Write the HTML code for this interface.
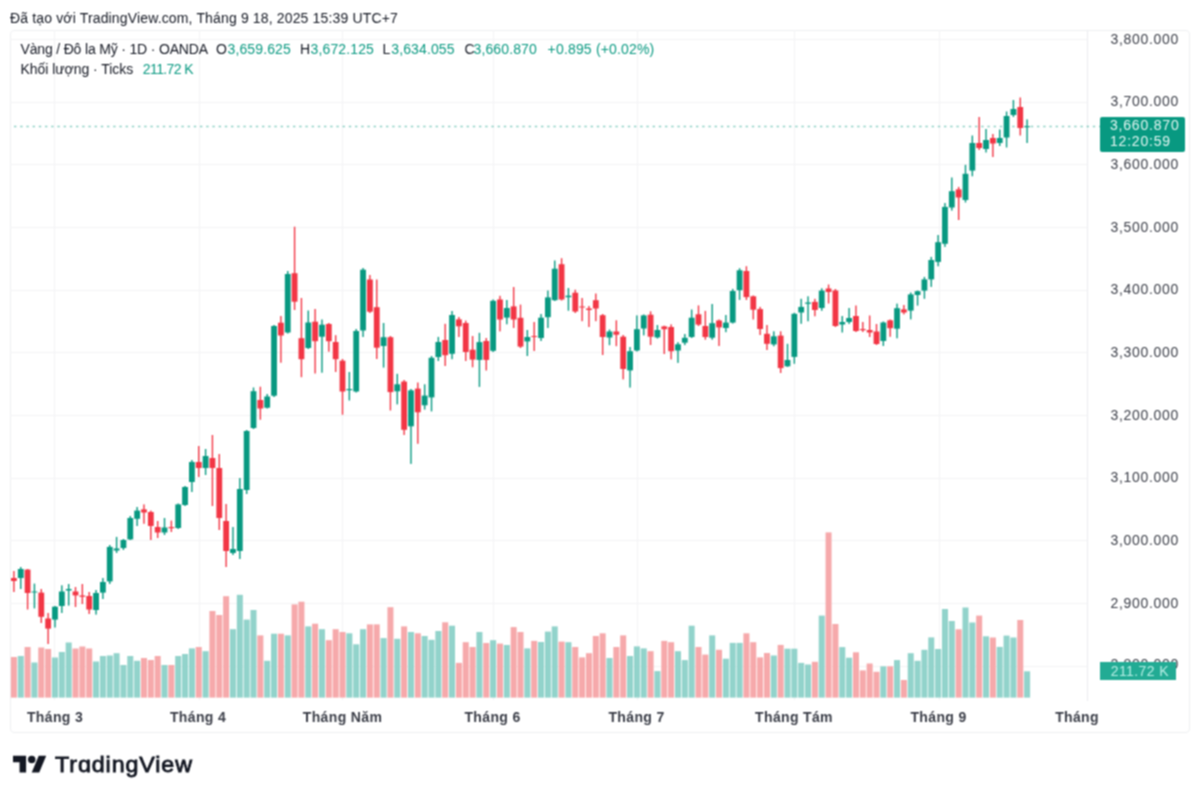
<!DOCTYPE html>
<html><head><meta charset="utf-8">
<style>
html,body{margin:0;padding:0;background:#fff;}
body{width:1200px;height:800px;position:relative;overflow:hidden;font-family:"Liberation Sans",sans-serif;color:#131722;}
.hdr{position:absolute;left:10px;top:10.25px;font-size:14px;line-height:17px;color:#131722;white-space:nowrap;letter-spacing:0.15px;}
.frame{position:absolute;left:10px;top:30px;width:1180px;height:702.5px;border:1px solid #eeeff1;border-radius:4px;box-sizing:border-box;}
.sep{position:absolute;left:1087px;top:30px;width:1px;height:671px;background:#ebecef;}
svg.ch{position:absolute;left:0;top:0;}
.t{position:absolute;white-space:nowrap;}
.lg{position:absolute;left:20px;font-size:14px;line-height:17px;white-space:nowrap;color:#131722;}
.lg span{position:absolute;top:0;white-space:nowrap;}
.lg .v{color:#089981;}
.pl{position:absolute;left:1090px;width:89px;text-align:right;font-size:14px;color:#3a3d47;line-height:17px;letter-spacing:0.7px;}
.ml{position:absolute;top:708.8px;width:120px;text-align:center;font-size:14px;font-weight:bold;color:#3a3d47;line-height:17px;letter-spacing:0.35px;}
.pbox{position:absolute;left:1100.4px;top:116.7px;width:85px;height:35.3px;background:#089981;border-radius:2px;color:#e6f7f3;font-size:14px;line-height:17px;letter-spacing:0.8px;}
.vbox{position:absolute;left:1100.4px;top:662px;width:75.4px;height:18px;background:#22ab94;color:#b8efe6;font-size:14px;line-height:18px;letter-spacing:0.4px;}
.logo{position:absolute;left:12.5px;top:752.1px;}
.logot{position:absolute;left:55px;top:752.5px;font-size:21.5px;line-height:24px;font-weight:normal;-webkit-text-stroke:0.8px #131722;color:#131722;letter-spacing:0.85px;transform:scaleX(1.08);transform-origin:0 0;}
#wrap{position:absolute;left:0;top:0;width:1200px;height:800px;filter:url(#bl);}
</style></head><body><svg width="0" height="0" style="position:absolute"><filter id="bl" x="0" y="0" width="100%" height="100%" color-interpolation-filters="sRGB"><feConvolveMatrix order="3" kernelMatrix="1 2 1 2 4 2 1 2 1" edgeMode="duplicate"/></filter></svg><div id="wrap">
<div class="hdr">Đã tạo với TradingView.com, Tháng 9 18, 2025 15:39 UTC+7</div>
<div class="frame"></div>
<div class="sep"></div>
<svg class="ch" width="1200" height="800" viewBox="0 0 1200 800">
<line x1="10" y1="666.5" x2="1087" y2="666.5" stroke="#f3f3f5" stroke-width="1"/>
<line x1="10" y1="603.5" x2="1087" y2="603.5" stroke="#f3f3f5" stroke-width="1"/>
<line x1="10" y1="540.5" x2="1087" y2="540.5" stroke="#f3f3f5" stroke-width="1"/>
<line x1="10" y1="478.5" x2="1087" y2="478.5" stroke="#f3f3f5" stroke-width="1"/>
<line x1="10" y1="415.5" x2="1087" y2="415.5" stroke="#f3f3f5" stroke-width="1"/>
<line x1="10" y1="352.5" x2="1087" y2="352.5" stroke="#f3f3f5" stroke-width="1"/>
<line x1="10" y1="290.5" x2="1087" y2="290.5" stroke="#f3f3f5" stroke-width="1"/>
<line x1="10" y1="227.5" x2="1087" y2="227.5" stroke="#f3f3f5" stroke-width="1"/>
<line x1="10" y1="164.5" x2="1087" y2="164.5" stroke="#f3f3f5" stroke-width="1"/>
<line x1="10" y1="102.5" x2="1087" y2="102.5" stroke="#f3f3f5" stroke-width="1"/>
<line x1="10" y1="39.5" x2="1087" y2="39.5" stroke="#f3f3f5" stroke-width="1"/>
<line x1="54.5" y1="30" x2="54.5" y2="700" stroke="#f3f3f5" stroke-width="1"/>
<line x1="199.5" y1="30" x2="199.5" y2="700" stroke="#f3f3f5" stroke-width="1"/>
<line x1="342.5" y1="30" x2="342.5" y2="700" stroke="#f3f3f5" stroke-width="1"/>
<line x1="493.5" y1="30" x2="493.5" y2="700" stroke="#f3f3f5" stroke-width="1"/>
<line x1="637.5" y1="30" x2="637.5" y2="700" stroke="#f3f3f5" stroke-width="1"/>
<line x1="794.5" y1="30" x2="794.5" y2="700" stroke="#f3f3f5" stroke-width="1"/>
<line x1="939.5" y1="30" x2="939.5" y2="700" stroke="#f3f3f5" stroke-width="1"/>
<rect x="10.90" y="657.0" width="6.0" height="40.6" fill="#f6a9ab"/>
<rect x="17.75" y="656.0" width="6.0" height="41.6" fill="#92d3cb"/>
<rect x="24.59" y="647.0" width="6.0" height="50.6" fill="#f6a9ab"/>
<rect x="31.44" y="662.5" width="6.0" height="35.1" fill="#92d3cb"/>
<rect x="38.28" y="647.5" width="6.0" height="50.1" fill="#f6a9ab"/>
<rect x="45.13" y="649.0" width="6.0" height="48.6" fill="#f6a9ab"/>
<rect x="51.98" y="657.5" width="6.0" height="40.1" fill="#92d3cb"/>
<rect x="58.82" y="652.0" width="6.0" height="45.6" fill="#92d3cb"/>
<rect x="65.67" y="642.5" width="6.0" height="55.1" fill="#92d3cb"/>
<rect x="72.51" y="648.5" width="6.0" height="49.1" fill="#f6a9ab"/>
<rect x="79.36" y="646.5" width="6.0" height="51.1" fill="#f6a9ab"/>
<rect x="86.21" y="648.5" width="6.0" height="49.1" fill="#f6a9ab"/>
<rect x="93.05" y="661.5" width="6.0" height="36.1" fill="#92d3cb"/>
<rect x="99.90" y="656.0" width="6.0" height="41.6" fill="#92d3cb"/>
<rect x="106.74" y="655.5" width="6.0" height="42.1" fill="#92d3cb"/>
<rect x="113.59" y="653.2" width="6.0" height="44.4" fill="#92d3cb"/>
<rect x="120.44" y="665.0" width="6.0" height="32.6" fill="#92d3cb"/>
<rect x="127.28" y="656.0" width="6.0" height="41.6" fill="#92d3cb"/>
<rect x="134.13" y="660.8" width="6.0" height="36.8" fill="#92d3cb"/>
<rect x="140.97" y="658.0" width="6.0" height="39.6" fill="#f6a9ab"/>
<rect x="147.82" y="660.0" width="6.0" height="37.6" fill="#f6a9ab"/>
<rect x="154.67" y="656.0" width="6.0" height="41.6" fill="#f6a9ab"/>
<rect x="161.51" y="665.0" width="6.0" height="32.6" fill="#92d3cb"/>
<rect x="168.36" y="665.0" width="6.0" height="32.6" fill="#f6a9ab"/>
<rect x="175.20" y="656.0" width="6.0" height="41.6" fill="#92d3cb"/>
<rect x="182.05" y="654.0" width="6.0" height="43.6" fill="#92d3cb"/>
<rect x="188.90" y="648.4" width="6.0" height="49.2" fill="#92d3cb"/>
<rect x="195.74" y="647.0" width="6.0" height="50.6" fill="#f6a9ab"/>
<rect x="202.59" y="651.2" width="6.0" height="46.4" fill="#92d3cb"/>
<rect x="209.43" y="611.0" width="6.0" height="86.6" fill="#f6a9ab"/>
<rect x="216.28" y="615.0" width="6.0" height="82.6" fill="#f6a9ab"/>
<rect x="223.13" y="596.2" width="6.0" height="101.4" fill="#f6a9ab"/>
<rect x="229.97" y="629.2" width="6.0" height="68.4" fill="#92d3cb"/>
<rect x="236.82" y="594.8" width="6.0" height="102.8" fill="#92d3cb"/>
<rect x="243.66" y="619.6" width="6.0" height="78.0" fill="#92d3cb"/>
<rect x="250.51" y="610.0" width="6.0" height="87.6" fill="#92d3cb"/>
<rect x="257.36" y="635.4" width="6.0" height="62.2" fill="#f6a9ab"/>
<rect x="264.20" y="660.8" width="6.0" height="36.8" fill="#92d3cb"/>
<rect x="271.05" y="633.7" width="6.0" height="63.9" fill="#92d3cb"/>
<rect x="277.89" y="633.7" width="6.0" height="63.9" fill="#f6a9ab"/>
<rect x="284.74" y="635.4" width="6.0" height="62.2" fill="#92d3cb"/>
<rect x="291.59" y="604.4" width="6.0" height="93.2" fill="#f6a9ab"/>
<rect x="298.43" y="601.7" width="6.0" height="95.9" fill="#f6a9ab"/>
<rect x="305.28" y="626.4" width="6.0" height="71.2" fill="#92d3cb"/>
<rect x="312.12" y="623.7" width="6.0" height="73.9" fill="#f6a9ab"/>
<rect x="318.97" y="629.2" width="6.0" height="68.4" fill="#92d3cb"/>
<rect x="325.82" y="640.2" width="6.0" height="57.4" fill="#f6a9ab"/>
<rect x="332.66" y="629.2" width="6.0" height="68.4" fill="#f6a9ab"/>
<rect x="339.51" y="632.0" width="6.0" height="65.6" fill="#f6a9ab"/>
<rect x="346.35" y="633.3" width="6.0" height="64.3" fill="#92d3cb"/>
<rect x="353.20" y="644.3" width="6.0" height="53.3" fill="#92d3cb"/>
<rect x="360.05" y="629.2" width="6.0" height="68.4" fill="#92d3cb"/>
<rect x="366.89" y="624.4" width="6.0" height="73.2" fill="#f6a9ab"/>
<rect x="373.74" y="624.4" width="6.0" height="73.2" fill="#f6a9ab"/>
<rect x="380.58" y="638.1" width="6.0" height="59.5" fill="#92d3cb"/>
<rect x="387.43" y="607.2" width="6.0" height="90.4" fill="#f6a9ab"/>
<rect x="394.28" y="638.8" width="6.0" height="58.8" fill="#92d3cb"/>
<rect x="401.12" y="626.4" width="6.0" height="71.2" fill="#f6a9ab"/>
<rect x="407.97" y="632.0" width="6.0" height="65.6" fill="#92d3cb"/>
<rect x="414.81" y="633.3" width="6.0" height="64.3" fill="#f6a9ab"/>
<rect x="421.66" y="636.0" width="6.0" height="61.6" fill="#92d3cb"/>
<rect x="428.51" y="639.8" width="6.0" height="57.8" fill="#92d3cb"/>
<rect x="435.35" y="631.0" width="6.0" height="66.6" fill="#92d3cb"/>
<rect x="442.20" y="622.3" width="6.0" height="75.3" fill="#f6a9ab"/>
<rect x="449.04" y="625.7" width="6.0" height="71.9" fill="#92d3cb"/>
<rect x="455.89" y="662.9" width="6.0" height="34.7" fill="#f6a9ab"/>
<rect x="462.74" y="642.2" width="6.0" height="55.4" fill="#f6a9ab"/>
<rect x="469.58" y="647.0" width="6.0" height="50.6" fill="#f6a9ab"/>
<rect x="476.43" y="632.0" width="6.0" height="65.6" fill="#92d3cb"/>
<rect x="483.27" y="643.0" width="6.0" height="54.6" fill="#f6a9ab"/>
<rect x="490.12" y="640.2" width="6.0" height="57.4" fill="#92d3cb"/>
<rect x="496.97" y="643.6" width="6.0" height="54.0" fill="#f6a9ab"/>
<rect x="503.81" y="645.0" width="6.0" height="52.6" fill="#92d3cb"/>
<rect x="510.66" y="627.1" width="6.0" height="70.5" fill="#f6a9ab"/>
<rect x="517.50" y="632.0" width="6.0" height="65.6" fill="#f6a9ab"/>
<rect x="524.35" y="648.4" width="6.0" height="49.2" fill="#92d3cb"/>
<rect x="531.20" y="640.9" width="6.0" height="56.7" fill="#f6a9ab"/>
<rect x="538.04" y="642.0" width="6.0" height="55.6" fill="#92d3cb"/>
<rect x="544.89" y="631.6" width="6.0" height="66.0" fill="#92d3cb"/>
<rect x="551.73" y="626.4" width="6.0" height="71.2" fill="#92d3cb"/>
<rect x="558.58" y="641.6" width="6.0" height="56.0" fill="#f6a9ab"/>
<rect x="565.43" y="642.2" width="6.0" height="55.4" fill="#92d3cb"/>
<rect x="572.27" y="647.0" width="6.0" height="50.6" fill="#f6a9ab"/>
<rect x="579.12" y="657.4" width="6.0" height="40.2" fill="#f6a9ab"/>
<rect x="585.96" y="653.2" width="6.0" height="44.4" fill="#f6a9ab"/>
<rect x="592.81" y="636.0" width="6.0" height="61.6" fill="#f6a9ab"/>
<rect x="599.66" y="633.3" width="6.0" height="64.3" fill="#f6a9ab"/>
<rect x="606.50" y="658.0" width="6.0" height="39.6" fill="#92d3cb"/>
<rect x="613.35" y="647.0" width="6.0" height="50.6" fill="#f6a9ab"/>
<rect x="620.19" y="635.4" width="6.0" height="62.2" fill="#f6a9ab"/>
<rect x="627.04" y="656.0" width="6.0" height="41.6" fill="#92d3cb"/>
<rect x="633.89" y="646.4" width="6.0" height="51.2" fill="#92d3cb"/>
<rect x="640.73" y="648.4" width="6.0" height="49.2" fill="#92d3cb"/>
<rect x="647.58" y="651.2" width="6.0" height="46.4" fill="#f6a9ab"/>
<rect x="654.42" y="671.1" width="6.0" height="26.5" fill="#92d3cb"/>
<rect x="661.27" y="640.9" width="6.0" height="56.7" fill="#f6a9ab"/>
<rect x="668.12" y="642.2" width="6.0" height="55.4" fill="#f6a9ab"/>
<rect x="674.96" y="651.2" width="6.0" height="46.4" fill="#92d3cb"/>
<rect x="681.81" y="660.1" width="6.0" height="37.5" fill="#92d3cb"/>
<rect x="688.65" y="625.7" width="6.0" height="71.9" fill="#92d3cb"/>
<rect x="695.50" y="647.0" width="6.0" height="50.6" fill="#f6a9ab"/>
<rect x="702.35" y="654.6" width="6.0" height="43.0" fill="#f6a9ab"/>
<rect x="709.19" y="635.4" width="6.0" height="62.2" fill="#92d3cb"/>
<rect x="716.04" y="649.8" width="6.0" height="47.8" fill="#f6a9ab"/>
<rect x="722.88" y="658.7" width="6.0" height="38.9" fill="#92d3cb"/>
<rect x="729.73" y="642.9" width="6.0" height="54.7" fill="#92d3cb"/>
<rect x="736.58" y="642.9" width="6.0" height="54.7" fill="#92d3cb"/>
<rect x="743.42" y="633.3" width="6.0" height="64.3" fill="#f6a9ab"/>
<rect x="750.27" y="642.2" width="6.0" height="55.4" fill="#f6a9ab"/>
<rect x="757.11" y="657.4" width="6.0" height="40.2" fill="#f6a9ab"/>
<rect x="763.96" y="653.0" width="6.0" height="44.6" fill="#f6a9ab"/>
<rect x="770.81" y="655.5" width="6.0" height="42.1" fill="#92d3cb"/>
<rect x="777.65" y="644.9" width="6.0" height="52.7" fill="#f6a9ab"/>
<rect x="784.50" y="648.7" width="6.0" height="48.9" fill="#92d3cb"/>
<rect x="791.34" y="648.7" width="6.0" height="48.9" fill="#92d3cb"/>
<rect x="798.19" y="662.9" width="6.0" height="34.7" fill="#92d3cb"/>
<rect x="805.04" y="664.5" width="6.0" height="33.1" fill="#92d3cb"/>
<rect x="811.88" y="661.8" width="6.0" height="35.8" fill="#f6a9ab"/>
<rect x="818.73" y="615.6" width="6.0" height="82.0" fill="#92d3cb"/>
<rect x="825.57" y="532.4" width="6.0" height="165.2" fill="#f6a9ab"/>
<rect x="832.42" y="624.0" width="6.0" height="73.6" fill="#f6a9ab"/>
<rect x="839.27" y="647.1" width="6.0" height="50.5" fill="#92d3cb"/>
<rect x="846.11" y="657.7" width="6.0" height="39.9" fill="#92d3cb"/>
<rect x="852.96" y="652.3" width="6.0" height="45.3" fill="#f6a9ab"/>
<rect x="859.80" y="670.4" width="6.0" height="27.2" fill="#f6a9ab"/>
<rect x="866.65" y="663.5" width="6.0" height="34.1" fill="#f6a9ab"/>
<rect x="873.50" y="671.8" width="6.0" height="25.8" fill="#f6a9ab"/>
<rect x="880.34" y="666.3" width="6.0" height="31.3" fill="#92d3cb"/>
<rect x="887.19" y="666.3" width="6.0" height="31.3" fill="#f6a9ab"/>
<rect x="894.03" y="660.1" width="6.0" height="37.5" fill="#92d3cb"/>
<rect x="900.88" y="680.0" width="6.0" height="17.6" fill="#f6a9ab"/>
<rect x="907.73" y="653.2" width="6.0" height="44.4" fill="#92d3cb"/>
<rect x="914.57" y="660.8" width="6.0" height="36.8" fill="#92d3cb"/>
<rect x="921.42" y="649.8" width="6.0" height="47.8" fill="#92d3cb"/>
<rect x="928.26" y="637.4" width="6.0" height="60.2" fill="#92d3cb"/>
<rect x="935.11" y="649.0" width="6.0" height="48.6" fill="#92d3cb"/>
<rect x="941.96" y="609.0" width="6.0" height="88.6" fill="#92d3cb"/>
<rect x="948.80" y="621.0" width="6.0" height="76.6" fill="#92d3cb"/>
<rect x="955.65" y="629.3" width="6.0" height="68.3" fill="#f6a9ab"/>
<rect x="962.49" y="607.5" width="6.0" height="90.1" fill="#92d3cb"/>
<rect x="969.34" y="622.5" width="6.0" height="75.1" fill="#92d3cb"/>
<rect x="976.19" y="615.6" width="6.0" height="82.0" fill="#f6a9ab"/>
<rect x="983.03" y="636.3" width="6.0" height="61.3" fill="#92d3cb"/>
<rect x="989.88" y="637.5" width="6.0" height="60.1" fill="#f6a9ab"/>
<rect x="996.72" y="646.9" width="6.0" height="50.7" fill="#92d3cb"/>
<rect x="1003.57" y="635.6" width="6.0" height="62.0" fill="#92d3cb"/>
<rect x="1010.42" y="637.5" width="6.0" height="60.1" fill="#92d3cb"/>
<rect x="1017.26" y="620.0" width="6.0" height="77.6" fill="#f6a9ab"/>
<rect x="1024.11" y="671.3" width="6.0" height="26.3" fill="#92d3cb"/>
<line x1="14" y1="126.5" x2="1100" y2="126.5" stroke="#089981" stroke-width="1.4" stroke-dasharray="2.4 3.8" opacity="0.45"/>
<rect x="13.20" y="571.0" width="1.4" height="21.0" fill="#f23645"/>
<rect x="11.00" y="578.0" width="5.8" height="3.0" fill="#f23645"/>
<rect x="20.05" y="567.0" width="1.4" height="22.0" fill="#089981"/>
<rect x="17.85" y="569.0" width="5.8" height="9.0" fill="#089981"/>
<rect x="26.89" y="569.0" width="1.4" height="40.5" fill="#f23645"/>
<rect x="24.69" y="569.6" width="5.8" height="23.4" fill="#f23645"/>
<rect x="33.74" y="583.6" width="1.4" height="24.8" fill="#089981"/>
<rect x="31.54" y="591.5" width="5.8" height="1.0" fill="#089981"/>
<rect x="40.58" y="589.0" width="1.4" height="34.0" fill="#f23645"/>
<rect x="38.38" y="592.6" width="5.8" height="24.2" fill="#f23645"/>
<rect x="47.43" y="613.0" width="1.4" height="31.0" fill="#f23645"/>
<rect x="45.23" y="618.5" width="5.8" height="10.1" fill="#f23645"/>
<rect x="54.28" y="606.0" width="1.4" height="21.5" fill="#089981"/>
<rect x="52.08" y="606.7" width="5.8" height="12.9" fill="#089981"/>
<rect x="61.12" y="585.3" width="1.4" height="27.7" fill="#089981"/>
<rect x="58.92" y="591.5" width="5.8" height="14.5" fill="#089981"/>
<rect x="67.97" y="584.0" width="1.4" height="21.6" fill="#089981"/>
<rect x="65.77" y="589.0" width="5.8" height="1.5" fill="#089981"/>
<rect x="74.81" y="587.0" width="1.4" height="20.0" fill="#f23645"/>
<rect x="72.61" y="591.5" width="5.8" height="3.9" fill="#f23645"/>
<rect x="81.66" y="584.0" width="1.4" height="20.0" fill="#f23645"/>
<rect x="79.46" y="595.5" width="5.8" height="1.3" fill="#f23645"/>
<rect x="88.51" y="592.0" width="1.4" height="22.0" fill="#f23645"/>
<rect x="86.31" y="596.0" width="5.8" height="13.5" fill="#f23645"/>
<rect x="95.35" y="590.0" width="1.4" height="24.6" fill="#089981"/>
<rect x="93.15" y="593.0" width="5.8" height="17.0" fill="#089981"/>
<rect x="102.20" y="578.0" width="1.4" height="21.0" fill="#089981"/>
<rect x="100.00" y="582.0" width="5.8" height="10.6" fill="#089981"/>
<rect x="109.04" y="545.0" width="1.4" height="39.0" fill="#089981"/>
<rect x="106.84" y="546.9" width="5.8" height="34.5" fill="#089981"/>
<rect x="115.89" y="536.9" width="1.4" height="16.1" fill="#089981"/>
<rect x="113.69" y="548.5" width="5.8" height="2.0" fill="#089981"/>
<rect x="122.74" y="539.0" width="1.4" height="11.0" fill="#089981"/>
<rect x="120.54" y="540.0" width="5.8" height="8.0" fill="#089981"/>
<rect x="129.58" y="516.0" width="1.4" height="24.0" fill="#089981"/>
<rect x="127.38" y="518.0" width="5.8" height="21.4" fill="#089981"/>
<rect x="136.43" y="507.0" width="1.4" height="19.0" fill="#089981"/>
<rect x="134.23" y="510.6" width="5.8" height="8.2" fill="#089981"/>
<rect x="143.27" y="504.4" width="1.4" height="19.4" fill="#f23645"/>
<rect x="141.07" y="509.4" width="5.8" height="3.1" fill="#f23645"/>
<rect x="150.12" y="510.6" width="1.4" height="29.4" fill="#f23645"/>
<rect x="147.92" y="512.0" width="5.8" height="14.0" fill="#f23645"/>
<rect x="156.97" y="521.0" width="1.4" height="17.0" fill="#f23645"/>
<rect x="154.77" y="527.0" width="5.8" height="5.5" fill="#f23645"/>
<rect x="163.81" y="518.0" width="1.4" height="17.0" fill="#089981"/>
<rect x="161.61" y="527.5" width="5.8" height="5.0" fill="#089981"/>
<rect x="170.66" y="520.6" width="1.4" height="11.4" fill="#f23645"/>
<rect x="168.46" y="527.0" width="5.8" height="1.2" fill="#f23645"/>
<rect x="177.50" y="503.5" width="1.4" height="25.5" fill="#089981"/>
<rect x="175.30" y="504.4" width="5.8" height="23.6" fill="#089981"/>
<rect x="184.35" y="486.0" width="1.4" height="20.0" fill="#089981"/>
<rect x="182.15" y="487.0" width="5.8" height="18.0" fill="#089981"/>
<rect x="191.20" y="460.0" width="1.4" height="32.0" fill="#089981"/>
<rect x="189.00" y="462.0" width="5.8" height="20.0" fill="#089981"/>
<rect x="198.04" y="446.0" width="1.4" height="31.0" fill="#f23645"/>
<rect x="195.84" y="462.0" width="5.8" height="6.0" fill="#f23645"/>
<rect x="204.89" y="449.0" width="1.4" height="26.0" fill="#089981"/>
<rect x="202.69" y="456.0" width="5.8" height="12.0" fill="#089981"/>
<rect x="211.73" y="435.0" width="1.4" height="71.0" fill="#f23645"/>
<rect x="209.53" y="458.0" width="5.8" height="10.0" fill="#f23645"/>
<rect x="218.58" y="454.0" width="1.4" height="76.0" fill="#f23645"/>
<rect x="216.38" y="468.0" width="5.8" height="50.0" fill="#f23645"/>
<rect x="225.43" y="504.0" width="1.4" height="63.0" fill="#f23645"/>
<rect x="223.23" y="521.0" width="5.8" height="30.0" fill="#f23645"/>
<rect x="232.27" y="527.0" width="1.4" height="28.0" fill="#089981"/>
<rect x="230.07" y="549.0" width="5.8" height="4.0" fill="#089981"/>
<rect x="239.12" y="478.0" width="1.4" height="81.0" fill="#089981"/>
<rect x="236.92" y="489.0" width="5.8" height="62.0" fill="#089981"/>
<rect x="245.96" y="430.0" width="1.4" height="64.0" fill="#089981"/>
<rect x="243.76" y="431.0" width="5.8" height="59.0" fill="#089981"/>
<rect x="252.81" y="387.5" width="1.4" height="41.5" fill="#089981"/>
<rect x="250.61" y="391.2" width="5.8" height="36.8" fill="#089981"/>
<rect x="259.66" y="386.7" width="1.4" height="33.0" fill="#f23645"/>
<rect x="257.46" y="400.0" width="5.8" height="8.5" fill="#f23645"/>
<rect x="266.50" y="394.0" width="1.4" height="14.5" fill="#089981"/>
<rect x="264.30" y="396.5" width="5.8" height="11.2" fill="#089981"/>
<rect x="273.35" y="325.0" width="1.4" height="72.0" fill="#089981"/>
<rect x="271.15" y="326.0" width="5.8" height="69.7" fill="#089981"/>
<rect x="280.19" y="316.0" width="1.4" height="46.7" fill="#f23645"/>
<rect x="277.99" y="322.7" width="5.8" height="12.8" fill="#f23645"/>
<rect x="287.04" y="271.0" width="1.4" height="62.5" fill="#089981"/>
<rect x="284.84" y="274.0" width="5.8" height="58.5" fill="#089981"/>
<rect x="293.89" y="226.7" width="1.4" height="83.3" fill="#f23645"/>
<rect x="291.69" y="273.2" width="5.8" height="28.5" fill="#f23645"/>
<rect x="300.73" y="298.0" width="1.4" height="79.2" fill="#f23645"/>
<rect x="298.53" y="338.2" width="5.8" height="21.0" fill="#f23645"/>
<rect x="307.58" y="310.5" width="1.4" height="38.5" fill="#089981"/>
<rect x="305.38" y="322.5" width="5.8" height="25.5" fill="#089981"/>
<rect x="314.42" y="309.0" width="1.4" height="64.5" fill="#f23645"/>
<rect x="312.22" y="321.7" width="5.8" height="19.5" fill="#f23645"/>
<rect x="321.27" y="319.5" width="1.4" height="53.2" fill="#089981"/>
<rect x="319.07" y="324.7" width="5.8" height="12.0" fill="#089981"/>
<rect x="328.12" y="323.0" width="1.4" height="28.7" fill="#f23645"/>
<rect x="325.92" y="324.0" width="5.8" height="17.2" fill="#f23645"/>
<rect x="334.96" y="335.2" width="1.4" height="36.8" fill="#f23645"/>
<rect x="332.76" y="342.0" width="5.8" height="17.2" fill="#f23645"/>
<rect x="341.81" y="359.0" width="1.4" height="55.7" fill="#f23645"/>
<rect x="339.61" y="360.7" width="5.8" height="30.8" fill="#f23645"/>
<rect x="348.65" y="372.0" width="1.4" height="28.5" fill="#089981"/>
<rect x="346.45" y="389.0" width="5.8" height="1.2" fill="#089981"/>
<rect x="355.50" y="329.0" width="1.4" height="63.5" fill="#089981"/>
<rect x="353.30" y="331.0" width="5.8" height="60.5" fill="#089981"/>
<rect x="362.35" y="268.0" width="1.4" height="69.0" fill="#089981"/>
<rect x="360.15" y="269.7" width="5.8" height="60.8" fill="#089981"/>
<rect x="369.19" y="275.0" width="1.4" height="38.0" fill="#f23645"/>
<rect x="366.99" y="279.5" width="5.8" height="32.2" fill="#f23645"/>
<rect x="376.04" y="279.5" width="1.4" height="79.5" fill="#f23645"/>
<rect x="373.84" y="307.2" width="5.8" height="40.5" fill="#f23645"/>
<rect x="382.88" y="323.0" width="1.4" height="44.6" fill="#089981"/>
<rect x="380.68" y="337.2" width="5.8" height="8.8" fill="#089981"/>
<rect x="389.73" y="336.0" width="1.4" height="74.5" fill="#f23645"/>
<rect x="387.53" y="337.2" width="5.8" height="54.9" fill="#f23645"/>
<rect x="396.58" y="373.8" width="1.4" height="30.6" fill="#089981"/>
<rect x="394.38" y="384.3" width="5.8" height="7.0" fill="#089981"/>
<rect x="403.42" y="380.0" width="1.4" height="55.0" fill="#f23645"/>
<rect x="401.22" y="381.6" width="5.8" height="48.2" fill="#f23645"/>
<rect x="410.27" y="389.0" width="1.4" height="74.9" fill="#089981"/>
<rect x="408.07" y="390.4" width="5.8" height="35.9" fill="#089981"/>
<rect x="417.11" y="382.5" width="1.4" height="61.3" fill="#f23645"/>
<rect x="414.91" y="388.6" width="5.8" height="23.7" fill="#f23645"/>
<rect x="423.96" y="384.3" width="1.4" height="25.3" fill="#089981"/>
<rect x="421.76" y="395.6" width="5.8" height="9.7" fill="#089981"/>
<rect x="430.81" y="356.0" width="1.4" height="55.4" fill="#089981"/>
<rect x="428.61" y="357.8" width="5.8" height="39.6" fill="#089981"/>
<rect x="437.65" y="336.9" width="1.4" height="24.1" fill="#089981"/>
<rect x="435.45" y="342.0" width="5.8" height="15.0" fill="#089981"/>
<rect x="444.50" y="323.8" width="1.4" height="42.2" fill="#f23645"/>
<rect x="442.30" y="340.0" width="5.8" height="15.2" fill="#f23645"/>
<rect x="451.34" y="311.0" width="1.4" height="48.2" fill="#089981"/>
<rect x="449.14" y="315.0" width="5.8" height="38.8" fill="#089981"/>
<rect x="458.19" y="317.0" width="1.4" height="20.0" fill="#f23645"/>
<rect x="455.99" y="319.4" width="5.8" height="6.9" fill="#f23645"/>
<rect x="465.04" y="320.6" width="1.4" height="40.4" fill="#f23645"/>
<rect x="462.84" y="323.0" width="5.8" height="29.0" fill="#f23645"/>
<rect x="471.88" y="336.0" width="1.4" height="31.3" fill="#f23645"/>
<rect x="469.68" y="349.7" width="5.8" height="9.9" fill="#f23645"/>
<rect x="478.73" y="332.8" width="1.4" height="54.1" fill="#089981"/>
<rect x="476.53" y="342.1" width="5.8" height="17.8" fill="#089981"/>
<rect x="485.57" y="338.0" width="1.4" height="32.5" fill="#f23645"/>
<rect x="483.37" y="341.0" width="5.8" height="18.9" fill="#f23645"/>
<rect x="492.42" y="299.5" width="1.4" height="52.5" fill="#089981"/>
<rect x="490.22" y="300.8" width="5.8" height="50.0" fill="#089981"/>
<rect x="499.27" y="295.8" width="1.4" height="35.6" fill="#f23645"/>
<rect x="497.07" y="299.5" width="5.8" height="20.0" fill="#f23645"/>
<rect x="506.11" y="300.0" width="1.4" height="24.3" fill="#089981"/>
<rect x="503.91" y="308.0" width="5.8" height="9.6" fill="#089981"/>
<rect x="512.96" y="287.0" width="1.4" height="41.0" fill="#f23645"/>
<rect x="510.76" y="306.4" width="5.8" height="13.1" fill="#f23645"/>
<rect x="519.80" y="304.6" width="1.4" height="43.4" fill="#f23645"/>
<rect x="517.60" y="317.8" width="5.8" height="28.8" fill="#f23645"/>
<rect x="526.65" y="330.0" width="1.4" height="26.0" fill="#089981"/>
<rect x="524.45" y="337.0" width="5.8" height="4.4" fill="#089981"/>
<rect x="533.50" y="322.0" width="1.4" height="29.0" fill="#f23645"/>
<rect x="531.30" y="336.0" width="5.8" height="1.0" fill="#f23645"/>
<rect x="540.34" y="314.0" width="1.4" height="27.0" fill="#089981"/>
<rect x="538.14" y="317.7" width="5.8" height="20.3" fill="#089981"/>
<rect x="547.19" y="290.5" width="1.4" height="37.5" fill="#089981"/>
<rect x="544.99" y="297.4" width="5.8" height="19.8" fill="#089981"/>
<rect x="554.03" y="260.5" width="1.4" height="40.5" fill="#089981"/>
<rect x="551.83" y="268.7" width="5.8" height="31.5" fill="#089981"/>
<rect x="560.88" y="258.2" width="1.4" height="42.3" fill="#f23645"/>
<rect x="558.68" y="264.2" width="5.8" height="35.3" fill="#f23645"/>
<rect x="567.73" y="288.0" width="1.4" height="22.7" fill="#089981"/>
<rect x="565.53" y="295.7" width="5.8" height="1.5" fill="#089981"/>
<rect x="574.57" y="289.7" width="1.4" height="23.3" fill="#f23645"/>
<rect x="572.37" y="292.7" width="5.8" height="18.8" fill="#f23645"/>
<rect x="581.42" y="298.0" width="1.4" height="23.2" fill="#f23645"/>
<rect x="579.22" y="306.5" width="5.8" height="1.0" fill="#f23645"/>
<rect x="588.26" y="306.0" width="1.4" height="21.0" fill="#f23645"/>
<rect x="586.06" y="308.5" width="5.8" height="1.5" fill="#f23645"/>
<rect x="595.11" y="293.5" width="1.4" height="27.7" fill="#f23645"/>
<rect x="592.91" y="300.2" width="5.8" height="8.3" fill="#f23645"/>
<rect x="601.96" y="314.0" width="1.4" height="41.0" fill="#f23645"/>
<rect x="599.76" y="315.2" width="5.8" height="21.8" fill="#f23645"/>
<rect x="608.80" y="329.5" width="1.4" height="15.7" fill="#089981"/>
<rect x="606.60" y="331.5" width="5.8" height="6.0" fill="#089981"/>
<rect x="615.65" y="320.3" width="1.4" height="25.9" fill="#f23645"/>
<rect x="613.45" y="331.5" width="5.8" height="3.2" fill="#f23645"/>
<rect x="622.49" y="335.0" width="1.4" height="44.4" fill="#f23645"/>
<rect x="620.29" y="336.7" width="5.8" height="32.3" fill="#f23645"/>
<rect x="629.34" y="347.0" width="1.4" height="40.6" fill="#089981"/>
<rect x="627.14" y="351.2" width="5.8" height="19.2" fill="#089981"/>
<rect x="636.19" y="315.4" width="1.4" height="36.1" fill="#089981"/>
<rect x="633.99" y="329.2" width="5.8" height="21.3" fill="#089981"/>
<rect x="643.03" y="314.5" width="1.4" height="20.9" fill="#089981"/>
<rect x="640.83" y="315.4" width="5.8" height="13.1" fill="#089981"/>
<rect x="649.88" y="311.3" width="1.4" height="33.7" fill="#f23645"/>
<rect x="647.68" y="314.7" width="5.8" height="22.0" fill="#f23645"/>
<rect x="656.72" y="325.0" width="1.4" height="13.5" fill="#089981"/>
<rect x="654.52" y="330.0" width="5.8" height="7.4" fill="#089981"/>
<rect x="663.57" y="325.7" width="1.4" height="28.3" fill="#f23645"/>
<rect x="661.37" y="326.4" width="5.8" height="2.8" fill="#f23645"/>
<rect x="670.42" y="324.4" width="1.4" height="35.0" fill="#f23645"/>
<rect x="668.22" y="327.0" width="5.8" height="24.2" fill="#f23645"/>
<rect x="677.26" y="342.2" width="1.4" height="20.7" fill="#089981"/>
<rect x="675.06" y="344.3" width="5.8" height="6.2" fill="#089981"/>
<rect x="684.11" y="334.0" width="1.4" height="11.1" fill="#089981"/>
<rect x="681.91" y="337.8" width="5.8" height="4.9" fill="#089981"/>
<rect x="690.95" y="309.5" width="1.4" height="28.5" fill="#089981"/>
<rect x="688.75" y="317.7" width="5.8" height="19.3" fill="#089981"/>
<rect x="697.80" y="305.4" width="1.4" height="20.6" fill="#f23645"/>
<rect x="695.60" y="314.3" width="5.8" height="10.3" fill="#f23645"/>
<rect x="704.65" y="310.9" width="1.4" height="28.8" fill="#f23645"/>
<rect x="702.45" y="326.0" width="5.8" height="11.0" fill="#f23645"/>
<rect x="711.49" y="304.0" width="1.4" height="35.7" fill="#089981"/>
<rect x="709.29" y="323.2" width="5.8" height="14.5" fill="#089981"/>
<rect x="718.34" y="319.5" width="1.4" height="26.5" fill="#f23645"/>
<rect x="716.14" y="320.5" width="5.8" height="6.9" fill="#f23645"/>
<rect x="725.18" y="315.0" width="1.4" height="17.2" fill="#089981"/>
<rect x="722.98" y="322.6" width="5.8" height="5.4" fill="#089981"/>
<rect x="732.03" y="288.9" width="1.4" height="34.6" fill="#089981"/>
<rect x="729.83" y="291.0" width="5.8" height="31.6" fill="#089981"/>
<rect x="738.88" y="268.2" width="1.4" height="31.7" fill="#089981"/>
<rect x="736.68" y="270.3" width="5.8" height="19.9" fill="#089981"/>
<rect x="745.72" y="266.2" width="1.4" height="33.8" fill="#f23645"/>
<rect x="743.52" y="271.0" width="5.8" height="26.1" fill="#f23645"/>
<rect x="752.57" y="295.5" width="1.4" height="24.0" fill="#f23645"/>
<rect x="750.37" y="296.3" width="5.8" height="13.4" fill="#f23645"/>
<rect x="759.41" y="306.9" width="1.4" height="28.1" fill="#f23645"/>
<rect x="757.21" y="309.1" width="5.8" height="19.9" fill="#f23645"/>
<rect x="766.26" y="325.0" width="1.4" height="25.0" fill="#f23645"/>
<rect x="764.06" y="333.8" width="5.8" height="10.0" fill="#f23645"/>
<rect x="773.11" y="331.3" width="1.4" height="15.0" fill="#089981"/>
<rect x="770.91" y="336.3" width="5.8" height="8.1" fill="#089981"/>
<rect x="779.95" y="331.3" width="1.4" height="41.7" fill="#f23645"/>
<rect x="777.75" y="335.6" width="5.8" height="32.5" fill="#f23645"/>
<rect x="786.80" y="343.8" width="1.4" height="23.1" fill="#089981"/>
<rect x="784.60" y="360.0" width="5.8" height="6.3" fill="#089981"/>
<rect x="793.64" y="312.8" width="1.4" height="51.0" fill="#089981"/>
<rect x="791.44" y="313.8" width="5.8" height="43.1" fill="#089981"/>
<rect x="800.49" y="298.8" width="1.4" height="25.0" fill="#089981"/>
<rect x="798.29" y="306.9" width="5.8" height="5.6" fill="#089981"/>
<rect x="807.34" y="296.3" width="1.4" height="25.0" fill="#089981"/>
<rect x="805.14" y="302.5" width="5.8" height="1.3" fill="#089981"/>
<rect x="814.18" y="298.8" width="1.4" height="17.5" fill="#f23645"/>
<rect x="811.98" y="301.9" width="5.8" height="8.1" fill="#f23645"/>
<rect x="821.03" y="288.3" width="1.4" height="22.5" fill="#089981"/>
<rect x="818.83" y="290.6" width="5.8" height="17.4" fill="#089981"/>
<rect x="827.87" y="284.5" width="1.4" height="19.0" fill="#f23645"/>
<rect x="825.67" y="288.5" width="5.8" height="3.5" fill="#f23645"/>
<rect x="834.72" y="289.0" width="1.4" height="38.0" fill="#f23645"/>
<rect x="832.52" y="290.5" width="5.8" height="35.5" fill="#f23645"/>
<rect x="841.57" y="316.0" width="1.4" height="16.5" fill="#089981"/>
<rect x="839.37" y="322.0" width="5.8" height="2.5" fill="#089981"/>
<rect x="848.41" y="308.0" width="1.4" height="16.0" fill="#089981"/>
<rect x="846.21" y="318.0" width="5.8" height="4.0" fill="#089981"/>
<rect x="855.26" y="305.5" width="1.4" height="26.5" fill="#f23645"/>
<rect x="853.06" y="316.0" width="5.8" height="15.0" fill="#f23645"/>
<rect x="862.10" y="322.0" width="1.4" height="10.0" fill="#f23645"/>
<rect x="859.90" y="329.0" width="5.8" height="1.2" fill="#f23645"/>
<rect x="868.95" y="315.5" width="1.4" height="21.5" fill="#f23645"/>
<rect x="866.75" y="330.0" width="5.8" height="2.5" fill="#f23645"/>
<rect x="875.80" y="324.0" width="1.4" height="21.0" fill="#f23645"/>
<rect x="873.60" y="331.5" width="5.8" height="12.5" fill="#f23645"/>
<rect x="882.64" y="321.5" width="1.4" height="24.5" fill="#089981"/>
<rect x="880.44" y="322.5" width="5.8" height="18.5" fill="#089981"/>
<rect x="889.49" y="319.5" width="1.4" height="17.3" fill="#f23645"/>
<rect x="887.29" y="320.3" width="5.8" height="7.9" fill="#f23645"/>
<rect x="896.33" y="303.6" width="1.4" height="34.7" fill="#089981"/>
<rect x="894.13" y="308.2" width="5.8" height="20.5" fill="#089981"/>
<rect x="903.18" y="305.0" width="1.4" height="9.4" fill="#f23645"/>
<rect x="900.98" y="309.4" width="5.8" height="3.1" fill="#f23645"/>
<rect x="910.03" y="292.5" width="1.4" height="26.9" fill="#089981"/>
<rect x="907.83" y="294.4" width="5.8" height="16.2" fill="#089981"/>
<rect x="916.87" y="290.5" width="1.4" height="15.1" fill="#089981"/>
<rect x="914.67" y="291.2" width="5.8" height="3.8" fill="#089981"/>
<rect x="923.72" y="276.9" width="1.4" height="21.9" fill="#089981"/>
<rect x="921.52" y="279.4" width="5.8" height="11.2" fill="#089981"/>
<rect x="930.56" y="256.9" width="1.4" height="30.0" fill="#089981"/>
<rect x="928.36" y="260.0" width="5.8" height="19.4" fill="#089981"/>
<rect x="937.41" y="235.0" width="1.4" height="31.3" fill="#089981"/>
<rect x="935.21" y="242.2" width="5.8" height="19.7" fill="#089981"/>
<rect x="944.26" y="203.0" width="1.4" height="43.9" fill="#089981"/>
<rect x="942.06" y="206.9" width="5.8" height="36.9" fill="#089981"/>
<rect x="951.10" y="177.5" width="1.4" height="33.1" fill="#089981"/>
<rect x="948.90" y="191.2" width="5.8" height="16.3" fill="#089981"/>
<rect x="957.95" y="186.9" width="1.4" height="33.1" fill="#f23645"/>
<rect x="955.75" y="189.4" width="5.8" height="8.1" fill="#f23645"/>
<rect x="964.79" y="164.8" width="1.4" height="37.7" fill="#089981"/>
<rect x="962.59" y="173.8" width="5.8" height="26.2" fill="#089981"/>
<rect x="971.64" y="135.5" width="1.4" height="40.8" fill="#089981"/>
<rect x="969.44" y="143.0" width="5.8" height="27.6" fill="#089981"/>
<rect x="978.49" y="117.0" width="1.4" height="33.0" fill="#f23645"/>
<rect x="976.29" y="143.0" width="5.8" height="5.0" fill="#f23645"/>
<rect x="985.33" y="129.0" width="1.4" height="23.5" fill="#089981"/>
<rect x="983.13" y="140.0" width="5.8" height="9.0" fill="#089981"/>
<rect x="992.18" y="134.0" width="1.4" height="23.0" fill="#f23645"/>
<rect x="989.98" y="138.0" width="5.8" height="5.5" fill="#f23645"/>
<rect x="999.02" y="129.5" width="1.4" height="16.5" fill="#089981"/>
<rect x="996.82" y="138.0" width="5.8" height="5.0" fill="#089981"/>
<rect x="1005.87" y="111.5" width="1.4" height="36.0" fill="#089981"/>
<rect x="1003.67" y="116.0" width="5.8" height="21.5" fill="#089981"/>
<rect x="1012.72" y="100.0" width="1.4" height="17.0" fill="#089981"/>
<rect x="1010.52" y="109.0" width="5.8" height="6.0" fill="#089981"/>
<rect x="1019.56" y="97.5" width="1.4" height="38.0" fill="#f23645"/>
<rect x="1017.36" y="107.0" width="5.8" height="21.0" fill="#f23645"/>
<rect x="1026.41" y="119.4" width="1.4" height="23.6" fill="#089981"/>
<rect x="1024.21" y="126.2" width="5.8" height="1.0" fill="#089981"/>
</svg>
<div class="t" style="left:20.5px;top:41.95px;font-size:14px;line-height:14px;letter-spacing:-0.17px;color:#131722;font-weight:400;">Vàng / Đô la Mỹ · 1D · OANDA</div>
<div class="t" style="left:216px;top:41.95px;font-size:14px;line-height:14px;letter-spacing:0px;color:#131722;font-weight:400;">O</div>
<div class="t" style="left:227.5px;top:41.95px;font-size:14px;line-height:14px;letter-spacing:0.12px;color:#089981;font-weight:400;">3,659.625</div>
<div class="t" style="left:300px;top:41.95px;font-size:14px;line-height:14px;letter-spacing:0px;color:#131722;font-weight:400;">H</div>
<div class="t" style="left:310.6px;top:41.95px;font-size:14px;line-height:14px;letter-spacing:0.12px;color:#089981;font-weight:400;">3,672.125</div>
<div class="t" style="left:382.4px;top:41.95px;font-size:14px;line-height:14px;letter-spacing:0px;color:#131722;font-weight:400;">L</div>
<div class="t" style="left:391.3px;top:41.95px;font-size:14px;line-height:14px;letter-spacing:0.12px;color:#089981;font-weight:400;">3,634.055</div>
<div class="t" style="left:464.6px;top:41.95px;font-size:14px;line-height:14px;letter-spacing:0px;color:#131722;font-weight:400;">C</div>
<div class="t" style="left:473.5px;top:41.95px;font-size:14px;line-height:14px;letter-spacing:0.12px;color:#089981;font-weight:400;">3,660.870</div>
<div class="t" style="left:547.6px;top:41.95px;font-size:14px;line-height:14px;letter-spacing:0.17px;color:#089981;font-weight:400;">+0.895 (+0.02%)</div>
<div class="t" style="left:20.5px;top:61.75px;font-size:14px;line-height:14px;letter-spacing:-0.05px;color:#131722;font-weight:400;">Khối lượng · Ticks</div>
<div class="t" style="left:142.8px;top:61.75px;font-size:14px;line-height:14px;letter-spacing:-0.6px;color:#089981;font-weight:400;">211.72 K</div>
<div class="pl" style="top:656.2px">2,800.000</div>
<div class="pl" style="top:594.6px">2,900.000</div>
<div class="pl" style="top:531.9px">3,000.000</div>
<div class="pl" style="top:469.2px">3,100.000</div>
<div class="pl" style="top:406.6px">3,200.000</div>
<div class="pl" style="top:343.9px">3,300.000</div>
<div class="pl" style="top:281.2px">3,400.000</div>
<div class="pl" style="top:218.6px">3,500.000</div>
<div class="pl" style="top:155.9px">3,600.000</div>
<div class="pl" style="top:93.2px">3,700.000</div>
<div class="pl" style="top:30.6px">3,800.000</div>
<div class="pbox"><div style="position:absolute;left:9.6px;top:0.5px">3,660.870</div><div style="position:absolute;left:9.6px;top:16.5px">12:20:59</div></div>
<div class="vbox"><div style="position:absolute;left:10.4px;top:0">211.72 K</div></div>
<div class="ml" style="left:-5px">Tháng 3</div>
<div class="ml" style="left:138px">Tháng 4</div>
<div class="ml" style="left:282.5px">Tháng Năm</div>
<div class="ml" style="left:432.5px">Tháng 6</div>
<div class="ml" style="left:576.5px">Tháng 7</div>
<div class="ml" style="left:734px">Tháng Tám</div>
<div class="ml" style="left:878.5px">Tháng 9</div>
<div class="ml" style="left:1017px">Tháng</div>
<svg class="logo" width="33.7" height="26.2" viewBox="0 0 36 28"><path d="M14 22H7V11H0V4h14v18zM28 22h-8l7.5-18h8L28 22z" fill="#131722"/><circle cx="20" cy="8" r="4" fill="#131722"/></svg>
<div class="logot">TrɑdingView</div>
</div></body></html>
